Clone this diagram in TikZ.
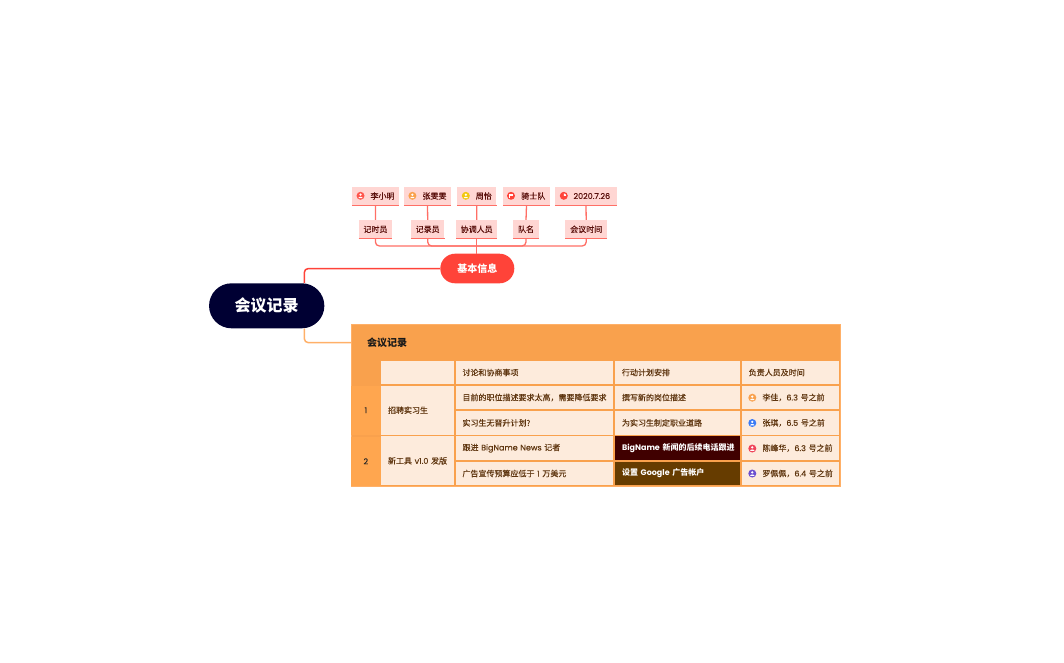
\documentclass[tikz,border=0pt]{standalone}
\usepackage{fontspec}
\setmainfont[FakeBold=0.2,BoldFeatures={FakeBold=0}]{Noto Sans CJK SC}
\newfontfamily\enfont[FakeBold=0.2,BoldFeatures={FakeBold=0}]{Poppins}
\newcommand{\en}[1]{{\enfont #1}}
\newcommand{\enb}[1]{{\enfont\bfseries #1}}
\newcommand{\low}[1]{\raisebox{-0.6pt}{#1}}
\usetikzlibrary{calc}
\definecolor{rootc}{HTML}{000033}
\definecolor{redc}{HTML}{FF4339}
\definecolor{redl}{HTML}{FF6F66}
\definecolor{tagf}{HTML}{FFD6D3}
\definecolor{tagt}{HTML}{5A0F0B}
\definecolor{orgc}{HTML}{F9A14D}
\definecolor{orgd}{HTML}{FFA64F}
\definecolor{orgl}{HTML}{FFB068}
\definecolor{cellf}{HTML}{FDEBDC}
\definecolor{cellt}{HTML}{5F3610}
\definecolor{darkred}{HTML}{400000}
\definecolor{darkbrown}{HTML}{663C00}
\definecolor{iconb}{HTML}{3B7BF5}
\definecolor{iconr}{HTML}{F0455A}
\definecolor{iconv}{HTML}{6B4FD0}
\definecolor{icony}{HTML}{F2C811}
\tikzset{
  x=1pt,y=-1pt,
  root/.style={rounded corners=22.5pt,fill=rootc,text=white,font=\fontsize{16}{16}\selectfont\bfseries,minimum width=115.3pt,minimum height=45pt,inner sep=0pt},
  base/.style={rounded corners=14.8pt,fill=redc,text=white,font=\fontsize{10}{10}\selectfont\bfseries,minimum width=74pt,minimum height=29.6pt,inner sep=0pt},
  tag/.style={fill=tagf,text=tagt,font=\fontsize{8}{8}\selectfont,inner sep=0pt,minimum height=18.5pt,anchor=center},
  tagline/.style={draw=redl,line width=1.3pt},
  link/.style={draw=redl,line width=1.3pt},
  mainlink/.style={draw=redc,line width=1.5pt,rounded corners=4pt},
  orglink/.style={draw=orgl,line width=1.5pt,rounded corners=4pt},
  cell/.style={fill=cellf,text=cellt,font=\fontsize{8}{8}\selectfont,inner ysep=0pt,inner xsep=0pt,align=left},
  firstcol/.style={fill=orgd,text=black!85,font=\fontsize{8}{8}\selectfont,inner sep=0pt},
  darkcell/.style={text=white,font=\fontsize{8}{8}\selectfont\bfseries,inner ysep=0pt,inner xsep=0pt,align=left},
}
% name, x1, y1, x2, y2, style, text
\newcommand{\cellbox}[7]{%
  \pgfmathsetmacro{\cw}{#4-#2}\pgfmathsetmacro{\ch}{#5-#3}%
  \pgfmathsetmacro{\cx}{(#2+#4)/2}\pgfmathsetmacro{\cy}{(#3+#5)/2}%
  \pgfmathsetmacro{\tw}{\cw-7.6}%
  \node[#6,text width=\tw pt,inner xsep=3.8pt,minimum height=\ch pt] (#1) at (\cx,\cy) {\hspace*{3.2pt}\mbox{\low{#7}}};}
% name, cx, cy, colour
\newcommand{\avatar}[4]{%
  \node[circle,fill=#4,minimum size=8pt,inner sep=0pt] (#1) at (#2,#3) {};
  \fill[white] ($(#1)+(0,-1.1)$) circle (1.25pt);
  \fill[white] ($(#1)+(-2.2,2.4)$) .. controls ($(#1)+(-2,0.5)$) and ($(#1)+(2,0.5)$) .. ($(#1)+(2.2,2.4)$) -- cycle;}
\begin{document}
\begin{tikzpicture}
\useasboundingbox (0,0) rectangle (1064,662);
% root and branch
\node[root] (rootn) at (266.7,305.8) {会议记录};
\node[base] (basen) at (477.3,268.5) {基本信息};
% top tags
\node[tag,minimum width=47pt] (t1) at (375.5,196.2) {};
\node[tag,minimum width=47pt] (t2) at (427.5,196.2) {};
\node[tag,minimum width=39pt] (t3) at (476.8,196.2) {};
\node[tag,minimum width=47pt] (t4) at (526.5,196.2) {};
\node[tag,minimum width=62pt] (t5) at (586,196.2) {};
\foreach \n in {t1,t2,t3,t4,t5}{\draw[tagline] (\n.south west) -- (\n.south east);}
\node[tag,anchor=west] (tx1) at (370.3,196) {\low{李小明}};
\node[tag,anchor=west] (tx2) at (422.3,196) {\low{张雯雯}};
\node[tag,anchor=west] (tx3) at (475.6,196) {\low{周怡}};
\node[tag,anchor=west] (tx4) at (521,196) {\low{骑士队}};
\node[tag,anchor=west,font=\fontsize{8}{8}\selectfont] (tx5) at (573.3,196) {\low{\en{2020.7.26}}};
\avatar{i1}{360.5}{195.8}{redc!90}
\avatar{i2}{412.4}{195.8}{orgc}
\avatar{i3}{465.8}{195.8}{icony}
\node[circle,fill=redc,minimum size=8pt,inner sep=0pt] (i4) at (511,195.8) {};
\fill[white] (509.4,193.6) rectangle (512.9,196.4);
\fill[white] (509.4,193.6) rectangle (510,198);
\node[circle,fill=redc,minimum size=8pt,inner sep=0pt] (i5) at (563.8,195.8) {};
\fill[white] (563.8,195.8) -- (563.8,193.4) arc (-90:0:2.4) -- cycle;
% second row
\node[tag,minimum width=33.4pt] (m1) at (375.4,229.3) {\low{记时员}};
\node[tag,minimum width=33.4pt] (m2) at (427.7,229.3) {\low{记录员}};
\node[tag,minimum width=41pt] (m3) at (476.7,229.3) {\low{协调人员}};
\node[tag,minimum width=26pt] (m4) at (526,229.3) {\low{队名}};
\node[tag,minimum width=41.7pt] (m5) at (586.2,229.3) {\low{会议时间}};
\foreach \n in {m1,m2,m3,m4,m5}{\draw[tagline] (\n.south west) -- (\n.south east);}
% connectors
\coordinate (bus) at (476.7,246);
\foreach \n in {1,2,3,4,5}{\draw[link] (t\n.south) -- (m\n.north);}
\draw[link,rounded corners=4pt] (m1.south) |- (bus);
\draw[link,rounded corners=4pt] (m2.south) |- (bus);
\draw[link,rounded corners=4pt] (m4.south) |- (bus);
\draw[link,rounded corners=4pt] (m5.south) |- (bus);
\draw[link] (m3.south) -- (m3.south |- basen.north);
% table
\node[fill=orgc,minimum width=489pt,minimum height=35.5pt,inner sep=0pt,anchor=north west] (thead) at (351,324.7) {};
\node[fill=orgc,minimum width=489pt,minimum height=126pt,inner sep=0pt,anchor=north west] (tbody) at (351,360) {};
\draw[orgl,line width=1pt] (351.3,324.7) rectangle (840.2,486.5);
\node[anchor=west,font=\fontsize{10}{10}\selectfont\bfseries,text=black!90,inner sep=0pt] (ttitle) at (367,342.3) {会议记录};
\draw[orglink] (rootn.south -| 304.3,0) |- (thead.west);
\draw[mainlink] (rootn.north -| 304.3,0) |- (basen.west);
\node[firstcol,minimum width=29.5pt,minimum height=49pt] (n1) at (365.8,410.3) {\low{\en{1}}};
\node[firstcol,minimum width=29.5pt,minimum height=49.5pt] (n2) at (365.8,461.3) {\low{\en{2}}};
\cellbox{c00}{381}{361}{453.5}{384}{cell}{}
\cellbox{c01}{455.5}{361}{613.2}{384}{cell}{讨论和协商事项}
\cellbox{c02}{615}{361}{739.8}{384}{cell}{行动计划安排}
\cellbox{c03}{741.7}{361}{839}{384}{cell}{负责人员及时间}
\cellbox{c10}{381}{385.7}{453.5}{434.7}{cell}{招聘实习生}
\cellbox{c11}{455.5}{385.7}{613.2}{409.3}{cell}{目前的职位描述要求太高，需要降低要求}
\cellbox{c12}{615}{385.7}{739.8}{409.3}{cell}{撰写新的岗位描述}
\cellbox{c13}{741.7}{385.7}{839}{409.3}{cell}{\hspace{13.7pt}李佳，\en{6.3} 号之前}
\cellbox{c21}{455.5}{411}{613.2}{434.7}{cell}{实习生无晋升计划?}
\cellbox{c22}{615}{411}{739.8}{434.7}{cell}{为实习生制定职业道路}
\cellbox{c23}{741.7}{411}{839}{434.7}{cell}{\hspace{13.7pt}张琪，\en{6.5} 号之前}
\cellbox{c30}{381}{436.3}{453.5}{485.3}{cell}{新工具 \en{v1.0} 发版}
\cellbox{c31}{455.5}{436.3}{613.2}{460}{cell}{跟进 \en{BigName News} 记者}
\cellbox{c32}{615}{436.3}{739.8}{460}{darkcell,fill=darkred}{\enb{BigName} 新闻的后续电话跟进}
\cellbox{c33}{741.7}{436.3}{839}{460}{cell}{\hspace{13.7pt}陈峰华，\en{6.3} 号之前}
\cellbox{c41}{455.5}{461.7}{613.2}{485.3}{cell}{广告宣传预算应低于 \en{1} 万美元}
\cellbox{c42}{615}{461.7}{739.8}{485.3}{darkcell,fill=darkbrown}{设置 \enb{Google} 广告帐户}
\cellbox{c43}{741.7}{461.7}{839}{485.3}{cell}{\hspace{13.7pt}罗佩佩，\en{6.4} 号之前}
\avatar{a1}{752.3}{397.7}{orgc}
\avatar{a2}{752.3}{423}{iconb}
\avatar{a3}{752.3}{448.5}{iconr}
\avatar{a4}{752.3}{473.5}{iconv}
\end{tikzpicture}
\end{document}
